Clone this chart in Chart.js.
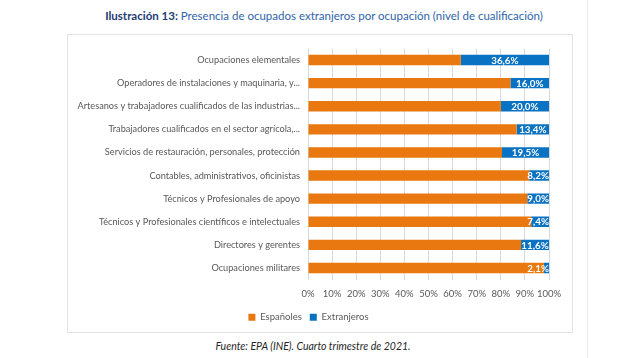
<!DOCTYPE html>
<html lang="es">
  <head>
    <meta charset="UTF-8" />
    <title>Presencia de ocupados extranjeros por ocupación</title>
    <style>
      body {
        margin: 0;
        width: 636px;
        height: 358px;
        background: #ffffff;
        font-family: Lato, sans-serif;
        position: relative;
        overflow: hidden;
      }
      #titulo {
        position: absolute;
        top: 9px;
        left: 0;
        width: 648px;
        text-align: center;
        font-size: 11.5px;
        color: #2f64a8;
        white-space: nowrap;
      }
      #titulo b {
        color: #1f3d73;
      }
      #marco {
        position: absolute;
        left: 67px;
        top: 34px;
        width: 504px;
        height: 297px;
        border: 1px solid #e3e3e3;
      }
      #lineaPagina {
        position: absolute;
        left: 587px;
        top: 0;
        width: 1px;
        height: 358px;
        background: #ececec;
      }
      #fuente {
        position: absolute;
        top: 340px;
        left: 0;
        width: 626px;
        text-align: center;
        font-size: 10.5px;
        font-style: italic;
        color: #262626;
      }
    </style>
    <script src="https://cdn.jsdelivr.net/npm/chart.js"></script>
  </head>
  <body>
    <div id="titulo"><b>Ilustración 13:</b> Presencia de ocupados extranjeros por ocupación (nivel de cualificación)</div>
    <div id="marco"><canvas id="graph" width="504" height="297"></canvas></div>
    <div id="lineaPagina"></div>
    <div id="fuente">Fuente: EPA (INE). Cuarto trimestre de 2021.</div>

    <script>
      // categorias (de arriba a abajo, como en la imagen)
      const ocupaciones = [
        "Ocupaciones elementales",
        "Operadores de instalaciones y maquinaria, y...",
        "Artesanos y trabajadores cualificados de las industrias...",
        "Trabajadores cualificados en el sector agrícola,...",
        "Servicios de restauración, personales, protección",
        "Contables, administrativos, oficinistas",
        "Técnicos y Profesionales de apoyo",
        "Técnicos y Profesionales científicos e intelectuales",
        "Directores y gerentes",
        "Ocupaciones militares",
      ];

      // porcentajes (%)
      const espanoles = [63.4, 84.0, 80.0, 86.6, 80.5, 91.8, 91.0, 92.6, 88.4, 97.9];
      const extranjeros = [36.6, 16.0, 20.0, 13.4, 19.5, 8.2, 9.0, 7.4, 11.6, 2.1];

      const ticksX = ["0%", "10%", "20%", "30%", "40%", "50%", "60%", "70%", "80%", "90%", "100%"];

      const naranja = "#e8780f";
      const azul = "#0a72c2";
      const gris = "#595959";

      // etiqueta blanca sobre el tramo azul (se corre a la izquierda si no cabe)
      const etiquetasAzul = {
        id: "etiquetasAzul",
        afterDatasetsDraw(chart) {
          const ctx = chart.ctx;
          const meta = chart.getDatasetMeta(1);
          const derecha = chart.chartArea.right;
          ctx.save();
          ctx.font = "bold 9.8px Lato, sans-serif";
          ctx.fillStyle = "#ffffff";
          ctx.textBaseline = "middle";
          ctx.textAlign = "center";
          meta.data.forEach((bar, i) => {
            const txt = extranjeros[i].toFixed(1).replace(".", ",") + "%";
            const w = ctx.measureText(txt).width;
            let x = (bar.base + bar.x) / 2;
            if (x + w / 2 > derecha) x = derecha - w / 2;
            ctx.fillText(txt, x, bar.y + 0.5);
          });
          ctx.restore();
        },
      };

      new Chart(document.getElementById("graph"), {
        type: "bar",
        data: {
          labels: ocupaciones,
          datasets: [
            {
              label: "Españoles",
              data: espanoles,
              backgroundColor: naranja,
              barPercentage: 0.45,
              categoryPercentage: 1,
            },
            {
              label: "Extranjeros",
              data: extranjeros,
              backgroundColor: azul,
              barPercentage: 0.45,
              categoryPercentage: 1,
            },
          ],
        },
        options: {
          indexAxis: "y",
          responsive: false,
          animation: false,
          layout: { padding: { top: 10.5, right: 23, left: 0, bottom: 0 } },
          scales: {
            x: {
              stacked: true,
              min: 0,
              max: 100,
              grid: { color: "#d9d9d9", drawTicks: false },
              border: { display: false },
              ticks: {
                stepSize: 10,
                padding: 9,
                maxRotation: 0,
                minRotation: 0,
                autoSkip: false,
                color: gris,
                font: { family: "Lato", size: 9.5 },
                callback: (v, i) => ticksX[i],
              },
              afterFit: (s) => { s.height = 25; },
            },
            y: {
              stacked: true,
              grid: { display: false, drawTicks: false },
              border: { display: false },
              ticks: {
                padding: 8,
                color: gris,
                font: { family: "Lato", size: 9.2 },
                autoSkip: false,
              },
              afterFit: (s) => { s.width = 240; },
            },
          },
          plugins: {
            legend: {
              position: "bottom",
              labels: {
                boxWidth: 7,
                boxHeight: 7,
                padding: 8,
                color: gris,
                font: { family: "Lato", size: 9.5 },
              },
            },
            tooltip: { enabled: false },
          },
        },
        plugins: [etiquetasAzul],
      });
    </script>
  </body>
</html>
